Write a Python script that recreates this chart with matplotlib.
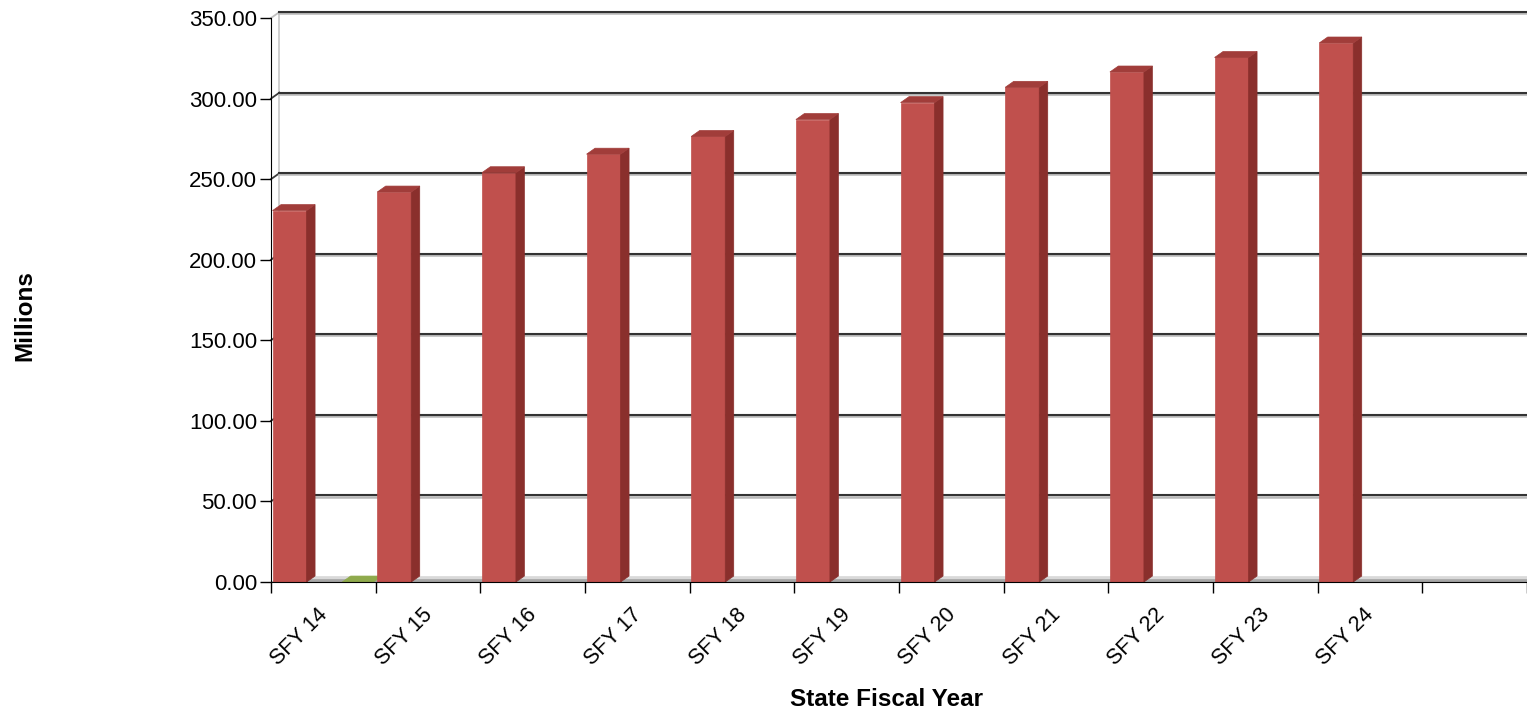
import matplotlib
matplotlib.use("Agg")
import matplotlib.pyplot as plt
from matplotlib.patches import Polygon
from matplotlib.transforms import offset_copy

categories = ["SFY 14", "SFY 15", "SFY 16", "SFY 17", "SFY 18", "SFY 19",
              "SFY 20", "SFY 21", "SFY 22", "SFY 23", "SFY 24", ""]
revenue = [230.5, 242.0, 254.0, 265.5, 276.5, 287.0, 297.5, 307.0, 316.5, 325.5, 334.5]
second_series = [0.0]  # only shows as a flat marker in the first year
y_ticks = [0, 50, 100, 150, 200, 250, 300, 350]

plt.rcParams['font.family'] = ['Liberation Sans', 'DejaVu Sans']

# fake 3d depth
dx = 0.081
dy = 3.7

fig = plt.figure(figsize=(15.27, 7.16), dpi=100)
ax = fig.add_axes([271 / 1527, 1 - 582 / 716, (1527 - 271) / 1527, (582 - 18) / 716])
n = len(categories)
ax.set_xlim(0, n)
ax.set_ylim(0, 350)


def face(pts, color, z):
    ax.add_patch(Polygon(pts, closed=True, facecolor=color, edgecolor=color,
                         lw=0.5, zorder=z, clip_on=False))


def box(x0, w, h, front, side, top, z=5):
    face([(x0, 0), (x0 + w, 0), (x0 + w, h), (x0, h)], front, z)
    face([(x0 + w, 0), (x0 + w + dx, dy), (x0 + w + dx, h + dy), (x0 + w, h)], side, z)
    face([(x0, h), (x0 + w, h), (x0 + w + dx, h + dy), (x0 + dx, h + dy)], top, z)


# back wall edge and gridlines
ax.plot([dx, dx], [dy, 350 + dy], color='#c8c8c8', lw=1.2, zorder=1, clip_on=False)
for v in y_ticks[1:]:
    col = '#c0c0c0' if v == 350 else '#3c3c3c'
    ax.plot([0, dx], [v, v + dy], color=col, lw=1.3, zorder=1, clip_on=False)
    ax.plot([dx, n], [v + dy - 0.7, v + dy - 0.7], color='#b8b8b8', lw=1.8, zorder=1, clip_on=False)
    ax.plot([dx, n], [v + dy, v + dy], color='#333333', lw=1.5, zorder=2, clip_on=False)

# floor
face([(0, 0), (n, 0), (n, dy), (dx, dy)], '#d9d9d9', 3)
face([(0, 0), (n, 0), (n, dy * 0.5), (dx * 0.5, dy * 0.5)], '#a6a6a6', 3)

# green series (zero height)
for i, v in enumerate(second_series):
    x0 = i + 0.68
    face([(x0, v), (x0 + 0.3, v), (x0 + 0.3 + dx, v + dy), (x0 + dx, v + dy)], '#8faa4c', 4)

# red series
for i, v in enumerate(revenue):
    box(i + 0.015, 0.325, v, '#c0504d', '#8a2f2c', '#a13d3a')

for s in ['top', 'right']:
    ax.spines[s].set_visible(False)
ax.spines['left'].set_color('black')
ax.spines['bottom'].set_color('black')
ax.spines['left'].set_zorder(6)
ax.spines['bottom'].set_zorder(6)

ax.set_yticks(y_ticks)
ax.set_yticklabels(["%.2f" % t for t in y_ticks], fontsize=16)
ax.set_xticks(range(n + 1))
ax.set_xticklabels([])
ax.tick_params(axis='both', direction='out', length=8, width=1, color='black', pad=2)

lab_tr = offset_copy(ax.transData, fig=fig, x=1, y=-30, units='dots')
for i, lab in enumerate(categories):
    ax.text(i + 0.5, 0, lab, transform=lab_tr, rotation=45, ha='right', va='center',
            rotation_mode='anchor', fontsize=15.5)

fig.text(25 / 1527, 1 - 316 / 716, 'Millions', rotation=90, fontweight='bold',
         fontsize=17.5, ha='center', va='center')
fig.text(887 / 1527, 1 - 700 / 716, 'State Fiscal Year', fontweight='bold',
         fontsize=17.5, ha='center', va='center')

fig.savefig('out.png', dpi=100)
